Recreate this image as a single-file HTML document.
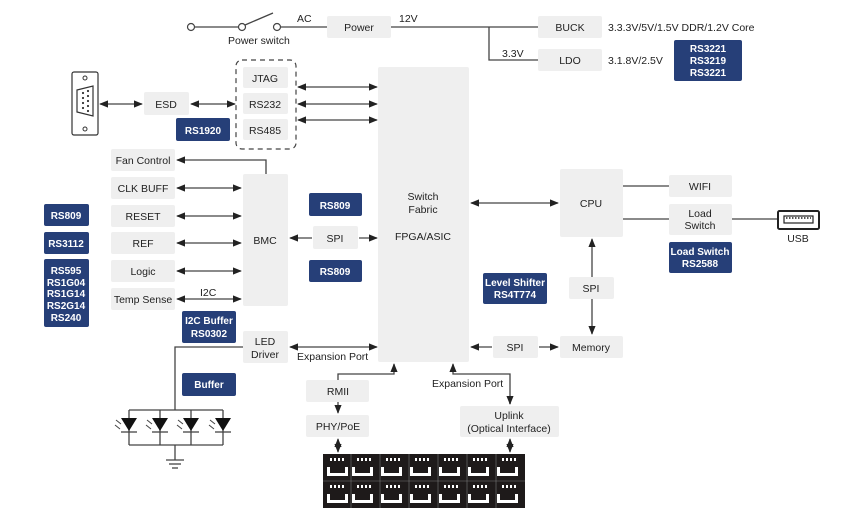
<!DOCTYPE html>
<html><head><meta charset="utf-8"><style>
html,body{margin:0;padding:0;background:#fff}
svg{display:block}
text{font-family:"Liberation Sans",sans-serif;font-size:10.5px;fill:#222}
.b{fill:#efefef}
.n{fill:#263f78}
.w{fill:#fff;font-weight:bold;font-size:10px}
.l{stroke:#444;stroke-width:1.3;fill:none}
</style></head><body>
<svg width="862" height="520" viewBox="0 0 862 520" xmlns="http://www.w3.org/2000/svg">
<defs>
<marker id="a" viewBox="0 0 10 10" refX="9" refY="5" markerWidth="7" markerHeight="7" orient="auto-start-reverse"><path d="M0,1 L10,5 L0,9 Z" fill="#222"/></marker>
</defs>
<!-- power -->
<circle cx="191" cy="27" r="3.5" fill="#fff" stroke="#444" stroke-width="1.2"/>
<circle cx="242" cy="27" r="3.5" fill="#fff" stroke="#444" stroke-width="1.2"/>
<circle cx="277" cy="27" r="3.5" fill="#fff" stroke="#444" stroke-width="1.2"/>
<line class="l" x1="195" y1="27" x2="238" y2="27"/>
<line class="l" x1="245" y1="25" x2="273" y2="13"/>
<line class="l" x1="281" y1="27" x2="327" y2="27"/>
<text x="228" y="44">Power switch</text>
<text x="297" y="22">AC</text>
<rect class="b" x="327" y="16" width="64" height="22" rx="2"/><text x="359" y="31" text-anchor="middle">Power</text>
<polyline class="l" points="391,27 538,27"/>
<polyline class="l" points="489,27 489,60 538,60"/>
<text x="399" y="22">12V</text><text x="502" y="57">3.3V</text>
<rect class="b" x="538" y="16" width="64" height="22" rx="2"/><text x="570" y="31" text-anchor="middle">BUCK</text>
<rect class="b" x="538" y="49" width="64" height="22" rx="2"/><text x="570" y="64" text-anchor="middle">LDO</text>
<text x="608" y="31">3.3.3V/5V/1.5V DDR/1.2V Core</text>
<text x="608" y="64">3.1.8V/2.5V</text>
<rect class="n" x="674" y="40" width="68" height="41" rx="2"/>
<text class="w" x="708" y="52" text-anchor="middle">RS3221</text><text class="w" x="708" y="64" text-anchor="middle">RS3219</text><text class="w" x="708" y="76" text-anchor="middle">RS3221</text>
<!-- DB9 -->
<rect x="72" y="72" width="26" height="63" rx="2" fill="#fff" stroke="#333" stroke-width="1.2"/>
<circle cx="85" cy="78" r="2" fill="none" stroke="#333"/><circle cx="85" cy="129" r="2" fill="none" stroke="#333"/>
<path d="M77,90 L93,86 L93,116 L77,112 Z" fill="none" stroke="#333" stroke-width="1.2"/>
<g fill="#333"><circle cx="83" cy="93" r="1.1"/><circle cx="83" cy="98" r="1.1"/><circle cx="83" cy="103" r="1.1"/><circle cx="83" cy="108" r="1.1"/><circle cx="88" cy="91" r="1.1"/><circle cx="88" cy="96" r="1.1"/><circle cx="88" cy="101" r="1.1"/><circle cx="88" cy="106" r="1.1"/><circle cx="88" cy="111" r="1.1"/></g>
<line class="l" x1="100" y1="104" x2="142" y2="104" marker-start="url(#a)" marker-end="url(#a)"/>
<rect class="b" x="144" y="92" width="45" height="23" rx="2"/><text x="166" y="108" text-anchor="middle">ESD</text>
<line class="l" x1="191" y1="104" x2="235" y2="104" marker-start="url(#a)" marker-end="url(#a)"/>
<rect class="n" x="176" y="118" width="54" height="23" rx="2"/><text class="w" x="203" y="134" text-anchor="middle">RS1920</text>
<rect x="236" y="60" width="60" height="89" rx="6" fill="none" stroke="#444" stroke-width="1.2" stroke-dasharray="5,4"/>
<rect class="b" x="243" y="67" width="45" height="21" rx="2"/><text x="265" y="82" text-anchor="middle">JTAG</text>
<rect class="b" x="243" y="93" width="45" height="21" rx="2"/><text x="265" y="108" text-anchor="middle">RS232</text>
<rect class="b" x="243" y="119" width="45" height="21" rx="2"/><text x="265" y="134" text-anchor="middle">RS485</text>
<line class="l" x1="298" y1="87" x2="377" y2="87" marker-start="url(#a)" marker-end="url(#a)"/>
<line class="l" x1="298" y1="104" x2="377" y2="104" marker-start="url(#a)" marker-end="url(#a)"/>
<line class="l" x1="298" y1="120" x2="377" y2="120" marker-start="url(#a)" marker-end="url(#a)"/>
<!-- fabric -->
<rect class="b" x="378" y="67" width="91" height="295" rx="2"/>
<text x="423" y="200" text-anchor="middle">Switch</text><text x="423" y="213" text-anchor="middle">Fabric</text>
<text x="423" y="240" text-anchor="middle">FPGA/ASIC</text>
<!-- BMC side -->
<rect class="b" x="111" y="149" width="64" height="22" rx="2"/><text x="143" y="164" text-anchor="middle">Fan Control</text>
<polyline class="l" points="266,174 266,160 177,160" marker-end="url(#a)"/>
<rect class="b" x="111" y="177" width="64" height="22" rx="2"/><text x="143" y="192" text-anchor="middle">CLK BUFF</text>
<rect class="b" x="111" y="205" width="64" height="22" rx="2"/><text x="143" y="220" text-anchor="middle">RESET</text>
<rect class="b" x="111" y="232" width="64" height="22" rx="2"/><text x="143" y="247" text-anchor="middle">REF</text>
<rect class="b" x="111" y="260" width="64" height="22" rx="2"/><text x="143" y="275" text-anchor="middle">Logic</text>
<rect class="b" x="111" y="288" width="64" height="22" rx="2"/><text x="143" y="303" text-anchor="middle">Temp Sense</text>
<line class="l" x1="177" y1="188" x2="241" y2="188" marker-start="url(#a)" marker-end="url(#a)"/>
<line class="l" x1="177" y1="216" x2="241" y2="216" marker-start="url(#a)" marker-end="url(#a)"/>
<line class="l" x1="177" y1="243" x2="241" y2="243" marker-start="url(#a)" marker-end="url(#a)"/>
<line class="l" x1="177" y1="271" x2="241" y2="271" marker-start="url(#a)" marker-end="url(#a)"/>
<line class="l" x1="177" y1="299" x2="241" y2="299" marker-start="url(#a)" marker-end="url(#a)"/>
<text x="200" y="296">I2C</text>
<rect class="b" x="243" y="174" width="45" height="132" rx="2"/><text x="265" y="244" text-anchor="middle">BMC</text>
<rect class="n" x="309" y="193" width="53" height="23" rx="2"/><text class="w" x="335" y="209" text-anchor="middle">RS809</text>
<rect class="b" x="313" y="226" width="45" height="23" rx="2"/><text x="335" y="242" text-anchor="middle">SPI</text>
<rect class="n" x="309" y="260" width="53" height="22" rx="2"/><text class="w" x="335" y="275" text-anchor="middle">RS809</text>
<line class="l" x1="312" y1="238" x2="290" y2="238" marker-end="url(#a)"/>
<line class="l" x1="359" y1="238" x2="377" y2="238" marker-end="url(#a)"/>
<rect class="n" x="44" y="204" width="45" height="22" rx="2"/><text class="w" x="66" y="219" text-anchor="middle">RS809</text>
<rect class="n" x="44" y="232" width="45" height="22" rx="2"/><text class="w" x="66" y="247" text-anchor="middle">RS3112</text>
<rect class="n" x="44" y="259" width="45" height="68" rx="2"/>
<text class="w" x="66" y="274" text-anchor="middle">RS595</text><text class="w" x="66" y="286" text-anchor="middle">RS1G04</text><text class="w" x="66" y="297" text-anchor="middle">RS1G14</text><text class="w" x="66" y="309" text-anchor="middle">RS2G14</text><text class="w" x="66" y="321" text-anchor="middle">RS240</text>
<rect class="n" x="182" y="311" width="54" height="32" rx="2"/><text class="w" x="209" y="324" text-anchor="middle">I2C Buffer</text><text class="w" x="209" y="337" text-anchor="middle">RS0302</text>
<rect class="n" x="182" y="373" width="54" height="23" rx="2"/><text class="w" x="209" y="388" text-anchor="middle">Buffer</text>
<rect class="b" x="243" y="331" width="45" height="32" rx="2"/><text x="265" y="345" text-anchor="middle">LED</text><text x="265" y="358" text-anchor="middle">Driver</text>
<line class="l" x1="290" y1="347" x2="377" y2="347" marker-start="url(#a)" marker-end="url(#a)"/>
<text x="297" y="360">Expansion Port</text>
<!-- LEDs -->
<polyline class="l" points="243,347 175,347 175,410"/>
<line class="l" x1="129" y1="410" x2="223" y2="410"/>
<line class="l" x1="129" y1="445" x2="223" y2="445"/>
<line class="l" x1="175" y1="445" x2="175" y2="460"/>
<line class="l" x1="166" y1="460" x2="184" y2="460"/><line class="l" x1="169" y1="464" x2="181" y2="464"/><line class="l" x1="172" y1="468" x2="178" y2="468"/>
<g>
<line class="l" x1="129" y1="410" x2="129" y2="445"/><path d="M121,418 L137,418 L129,431 Z" fill="#111"/><line class="l" x1="121" y1="432" x2="137" y2="432"/><path d="M116,420 l5,4 M115,425 l5,4" stroke="#444"/>
<line class="l" x1="160" y1="410" x2="160" y2="445"/><path d="M152,418 L168,418 L160,431 Z" fill="#111"/><line class="l" x1="152" y1="432" x2="168" y2="432"/><path d="M147,420 l5,4 M146,425 l5,4" stroke="#444"/>
<line class="l" x1="191" y1="410" x2="191" y2="445"/><path d="M183,418 L199,418 L191,431 Z" fill="#111"/><line class="l" x1="183" y1="432" x2="199" y2="432"/><path d="M178,420 l5,4 M177,425 l5,4" stroke="#444"/>
<line class="l" x1="223" y1="410" x2="223" y2="445"/><path d="M215,418 L231,418 L223,431 Z" fill="#111"/><line class="l" x1="215" y1="432" x2="231" y2="432"/><path d="M210,420 l5,4 M209,425 l5,4" stroke="#444"/>
</g>
<!-- bottom -->
<rect class="b" x="306" y="380" width="63" height="22" rx="2"/><text x="338" y="395" text-anchor="middle">RMII</text>
<polyline class="l" points="338,380 338,374 394,374 394,364" marker-end="url(#a)"/>
<line class="l" x1="338" y1="402" x2="338" y2="413" marker-end="url(#a)"/>
<rect class="b" x="306" y="415" width="63" height="22" rx="2"/><text x="338" y="430" text-anchor="middle">PHY/PoE</text>
<line class="l" x1="338" y1="439" x2="338" y2="452" marker-start="url(#a)" marker-end="url(#a)"/>
<polyline class="l" points="510,404 510,374 453,374 453,364" marker-end="url(#a)"/>
<line class="l" x1="510" y1="398" x2="510" y2="404" marker-end="url(#a)"/>
<text x="432" y="387">Expansion Port</text>
<rect class="b" x="460" y="406" width="99" height="31" rx="2"/><text x="509" y="419" text-anchor="middle">Uplink</text><text x="509" y="432" text-anchor="middle">(Optical Interface)</text>
<line class="l" x1="510" y1="439" x2="510" y2="452" marker-start="url(#a)" marker-end="url(#a)"/>
<g id="ports">
<rect x="323" y="454" width="202" height="54" fill="#1e1a1a"/>
</g>
<g fill="#fff">
<script>/* none */</script>
</g>
<g id="cells"></g>
<!-- port cells generated statically -->
<g fill="#fff" stroke="none">
<path d="M327,467h21v9h-21z M352,467h21v9h-21z M381,467h21v9h-21z M410,467h21v9h-21z M439,467h21v9h-21z M468,467h21v9h-21z M497,467h21v9h-21z M327,494h21v9h-21z M352,494h21v9h-21z M381,494h21v9h-21z M410,494h21v9h-21z M439,494h21v9h-21z M468,494h21v9h-21z M497,494h21v9h-21z"/>
</g>
<g fill="#1e1a1a">
<path d="M330,465h15v8h-15z M355,465h15v8h-15z M384,465h15v8h-15z M413,465h15v8h-15z M442,465h15v8h-15z M471,465h15v8h-15z M500,465h15v8h-15z M330,492h15v8h-15z M355,492h15v8h-15z M384,492h15v8h-15z M413,492h15v8h-15z M442,492h15v8h-15z M471,492h15v8h-15z M500,492h15v8h-15z"/>
</g>
<g stroke="#777" stroke-width="0.6"><line x1="323" y1="481" x2="525" y2="481"/><line x1="351" y1="454" x2="351" y2="508"/><line x1="380" y1="454" x2="380" y2="508"/><line x1="409" y1="454" x2="409" y2="508"/><line x1="438" y1="454" x2="438" y2="508"/><line x1="467" y1="454" x2="467" y2="508"/><line x1="496" y1="454" x2="496" y2="508"/></g>
<g fill="#fff">
<path d="M330,458h2v3h-2z M334,458h2v3h-2z M338,458h2v3h-2z M342,458h2v3h-2z"/>
<path d="M357,458h2v3h-2z M361,458h2v3h-2z M365,458h2v3h-2z M369,458h2v3h-2z"/>
<path d="M386,458h2v3h-2z M390,458h2v3h-2z M394,458h2v3h-2z M398,458h2v3h-2z"/>
<path d="M415,458h2v3h-2z M419,458h2v3h-2z M423,458h2v3h-2z M427,458h2v3h-2z"/>
<path d="M444,458h2v3h-2z M448,458h2v3h-2z M452,458h2v3h-2z M456,458h2v3h-2z"/>
<path d="M473,458h2v3h-2z M477,458h2v3h-2z M481,458h2v3h-2z M485,458h2v3h-2z"/>
<path d="M502,458h2v3h-2z M506,458h2v3h-2z M510,458h2v3h-2z M514,458h2v3h-2z"/>
<path d="M330,485h2v3h-2z M334,485h2v3h-2z M338,485h2v3h-2z M342,485h2v3h-2z"/>
<path d="M357,485h2v3h-2z M361,485h2v3h-2z M365,485h2v3h-2z M369,485h2v3h-2z"/>
<path d="M386,485h2v3h-2z M390,485h2v3h-2z M394,485h2v3h-2z M398,485h2v3h-2z"/>
<path d="M415,485h2v3h-2z M419,485h2v3h-2z M423,485h2v3h-2z M427,485h2v3h-2z"/>
<path d="M444,485h2v3h-2z M448,485h2v3h-2z M452,485h2v3h-2z M456,485h2v3h-2z"/>
<path d="M473,485h2v3h-2z M477,485h2v3h-2z M481,485h2v3h-2z M485,485h2v3h-2z"/>
<path d="M502,485h2v3h-2z M506,485h2v3h-2z M510,485h2v3h-2z M514,485h2v3h-2z"/>
</g>
<!-- right side -->
<rect class="n" x="483" y="273" width="64" height="31" rx="2"/><text class="w" x="515" y="286" text-anchor="middle">Level Shifter</text><text class="w" x="515" y="298" text-anchor="middle">RS4T774</text>
<rect class="b" x="493" y="336" width="45" height="22" rx="2"/><text x="515" y="351" text-anchor="middle">SPI</text>
<line class="l" x1="492" y1="347" x2="471" y2="347" marker-end="url(#a)"/>
<line class="l" x1="539" y1="347" x2="558" y2="347" marker-end="url(#a)"/>
<rect class="b" x="560" y="336" width="63" height="22" rx="2"/><text x="591" y="351" text-anchor="middle">Memory</text>
<rect class="b" x="560" y="169" width="63" height="68" rx="2"/><text x="591" y="207" text-anchor="middle">CPU</text>
<line class="l" x1="471" y1="203" x2="558" y2="203" marker-start="url(#a)" marker-end="url(#a)"/>
<rect class="b" x="569" y="277" width="45" height="22" rx="2"/><text x="591" y="292" text-anchor="middle">SPI</text>
<line class="l" x1="592" y1="277" x2="592" y2="239" marker-end="url(#a)"/>
<line class="l" x1="592" y1="299" x2="592" y2="334" marker-end="url(#a)"/>
<line class="l" x1="623" y1="186" x2="669" y2="186"/>
<line class="l" x1="623" y1="219" x2="669" y2="219"/>
<rect class="b" x="669" y="175" width="63" height="22" rx="2"/><text x="700" y="190" text-anchor="middle">WIFI</text>
<rect class="b" x="669" y="204" width="63" height="31" rx="2"/><text x="700" y="217" text-anchor="middle">Load</text><text x="700" y="229" text-anchor="middle">Switch</text>
<rect class="n" x="669" y="242" width="63" height="31" rx="2"/><text class="w" x="700" y="255" text-anchor="middle">Load Switch</text><text class="w" x="700" y="267" text-anchor="middle">RS2588</text>
<line class="l" x1="732" y1="219" x2="778" y2="219"/>
<rect x="778" y="211" width="41" height="18" rx="1.5" fill="#fff" stroke="#222" stroke-width="2"/>
<rect x="784" y="216" width="29" height="7" fill="none" stroke="#222" stroke-width="1.2"/>
<line x1="786" y1="218" x2="811" y2="218" stroke="#222" stroke-width="1.5" stroke-dasharray="1.5,1.5"/>
<text x="798" y="242" text-anchor="middle">USB</text>
</svg>
</body></html>
